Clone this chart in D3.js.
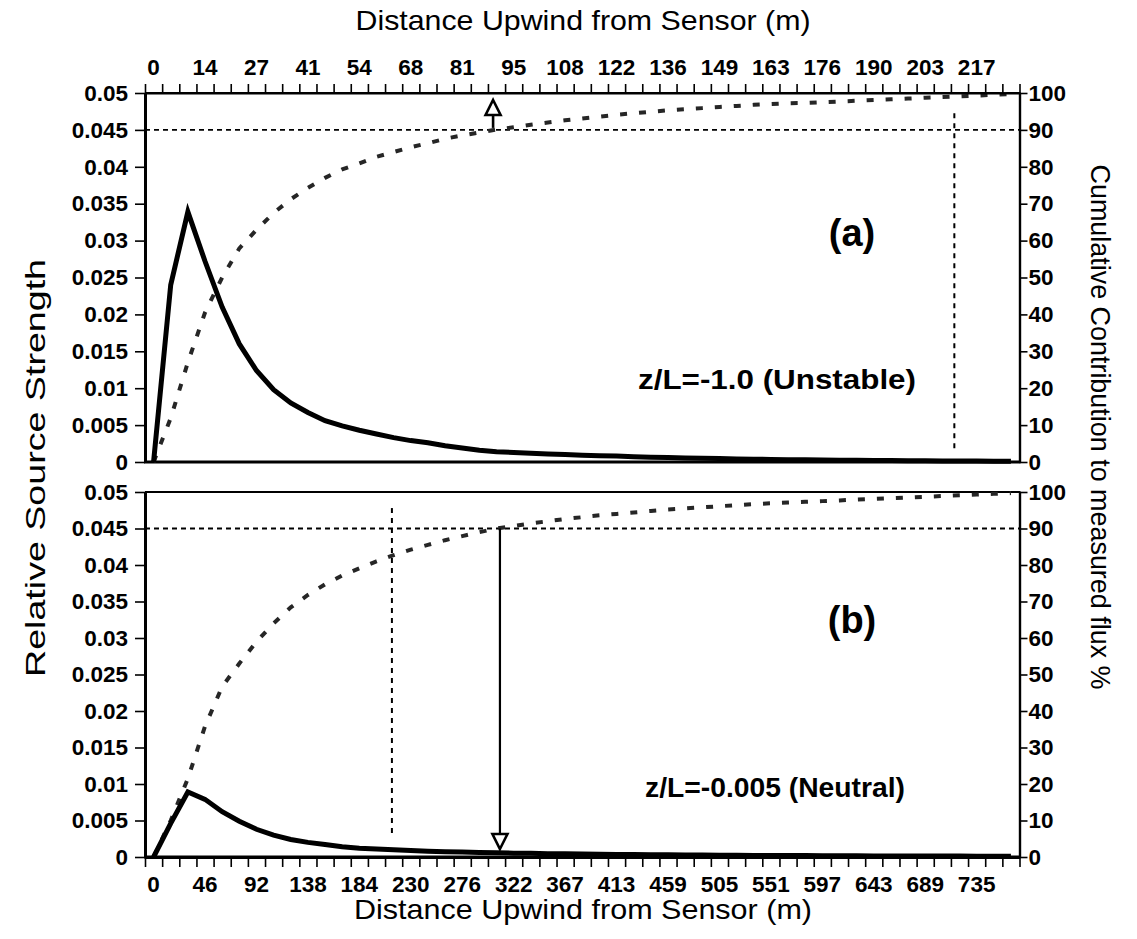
<!DOCTYPE html>
<html>
<head>
<meta charset="utf-8">
<script src="https://cdn.jsdelivr.net/npm/d3@7"></script>
<style>
  html, body { margin: 0; padding: 0; background: #fff; }
  svg { display: block; font-family: "Liberation Sans", Arial, Helvetica, sans-serif; }
</style>
</head>
<body>
<svg id="chart" width="1137" height="939"></svg>
<script>
// ---------------- data ----------------
const categoryCount = 51;
const topTickLabels = ["0","14","27","41","54","68","81","95","108","122","136","149","163","176","190","203","217"];
const bottomTickLabels = ["0","46","92","138","184","230","276","322","367","413","459","505","551","597","643","689","735"];
const leftTicks = [0,0.005,0.01,0.015,0.02,0.025,0.03,0.035,0.04,0.045,0.05];
const leftTickLabels = ["0","0.005","0.01","0.015","0.02","0.025","0.03","0.035","0.04","0.045","0.05"];
const rightTicks = [0,10,20,30,40,50,60,70,80,90,100];

// (a) unstable  z/L = -1.0
const strengthA = [0,0.024,0.0339,0.0272,0.0210,0.0160,0.0124,0.0098,0.0080,0.0067,0.0056,
  0.0049,0.0043,0.0038,0.0033,0.0029,0.0026,0.0022,0.0019,0.0016,0.0014,
  0.0013,0.0012,0.0011,0.0010,0.0009,0.00085,0.0008,0.00072,0.00066,0.0006,
  0.00055,0.0005,0.00046,0.00042,0.00038,0.00035,0.00032,0.0003,0.00027,0.00025,
  0.00023,0.00021,0.00019,0.00017,0.00016,0.00015,0.00013,0.00012,0.00011,0.0001];
const cumulativeA = [0,11.9,27,40.5,50,57.9,62.9,67.5,71.2,74.3,77,
  79.3,80.9,82.7,84,85.3,86.4,87.6,88.5,89.3,90.1,
  90.7,91.4,92,92.6,93.1,93.6,94.1,94.5,94.9,95.3,
  95.6,95.9,96.2,96.5,96.8,97,97.2,97.3,97.5,97.7,
  97.9,98.1,98.3,98.5,98.7,98.9,99.1,99.3,99.5,99.7];

// (b) neutral  z/L = -0.005
const strengthB = [0,0.0046,0.0089,0.0079,0.0062,0.0049,0.0038,0.0030,0.0024,0.0020,0.0017,
  0.0014,0.0012,0.0011,0.00098,0.00088,0.0008,0.00073,0.00067,0.00062,0.00057,
  0.00053,0.0005,0.00046,0.00043,0.0004,0.00037,0.00035,0.00033,0.00031,0.0003,
  0.00028,0.00027,0.00025,0.00024,0.00022,0.00021,0.0002,0.00019,0.00018,0.00017,
  0.00016,0.00015,0.00014,0.00013,0.00013,0.00012,0.00012,0.00011,0.00011,0.0001];
const cumulativeB = [0,10,21.5,35.8,46.7,53,59,64,68.4,71.8,74.7,
  77.1,79.1,81,82.7,84.2,85.5,86.8,87.9,89,90,
  90.7,91.4,92,92.6,93.1,93.6,94,94.4,94.8,95.2,
  95.5,95.8,96.1,96.4,96.7,96.9,97.1,97.3,97.5,97.7,
  97.9,98.1,98.3,98.5,98.7,98.9,99.1,99.3,99.5,99.7];

// annotation positions (category index, cumulative %)
const arrowA = [19.8, 90];          // 90 % crossing, panel (a)
const arrowB = [20.2, 90];          // 90 % crossing, panel (b)
const vlineA = [46.7, 94.5, 3];     // category, from %, to %
const vlineB = [13.9, 95.6, 5.5];
const level90 = [90];

// ---------------- layout ----------------
const svg = d3.select("#chart");
const X0 = 145, X1 = 1019.5;
const panels = [
  {top: 93, bottom: 462, s: strengthA, c: cumulativeA, arrow: arrowA, vline: vlineA, arrowUp: true,
   label: "(a)", labelY: 246, note: "z/L=-1.0 (Unstable)", noteX: 777, noteY: 389, noteW: 278},
  {top: 492, bottom: 857, s: strengthB, c: cumulativeB, arrow: arrowB, vline: vlineB, arrowUp: false,
   label: "(b)", labelY: 633, note: "z/L=-0.005 (Neutral)", noteX: 775, noteY: 797, noteW: 260}
];

const xBand = d3.scaleBand().domain(d3.range(categoryCount)).range([X0, X1]).padding(0);
const xEdge = d3.scaleLinear().domain([0, categoryCount]).range([X0, X1]);
const xCat = d3.scaleLinear().domain([-0.5, categoryCount - 0.5]).range([X0, X1]);
const cx = i => xBand(i) + xBand.bandwidth() / 2;

const tickFont = "bold 22.5px 'Liberation Sans', Arial, sans-serif";

function styleAxis(g, w) {
  g.selectAll("path.domain").attr("stroke", "#000").attr("stroke-width", w);
  g.selectAll(".tick line").attr("stroke", "#000").attr("stroke-width", 1.6);
  g.selectAll("text").style("font", tickFont).attr("fill", "#000");
}

panels.forEach((p, k) => {
  const yL = d3.scaleLinear().domain([0, 0.05]).range([p.bottom, p.top]);
  const yR = d3.scaleLinear().domain([0, 100]).range([p.bottom, p.top]);

  // frame
  svg.append("line").attr("x1", X0).attr("x2", X1 + 1).attr("y1", p.top).attr("y2", p.top)
    .attr("stroke", "#000").attr("stroke-width", 2.2);
  svg.append("line").attr("x1", X0 - 1).attr("x2", X1 + 1).attr("y1", p.bottom).attr("y2", p.bottom)
    .attr("stroke", "#000").attr("stroke-width", 3);

  // left axis
  const gl = svg.append("g").attr("transform", `translate(${X0},0)`)
    .call(d3.axisLeft(yL).tickValues(leftTicks).tickFormat((d, i) => leftTickLabels[i]).tickSize(10).tickSizeOuter(0).tickPadding(7));
  styleAxis(gl, 3);

  // right axis
  const gr = svg.append("g").attr("transform", `translate(${X1},0)`)
    .call(d3.axisRight(yR).tickValues(rightTicks).tickSize(8).tickSizeOuter(0).tickPadding(1));
  styleAxis(gr, 2.4);

  // 90% reference line
  svg.append("line").attr("x1", X0).attr("x2", X1).attr("y1", yR(level90[0])).attr("y2", yR(level90[0]))
    .attr("stroke", "#000").attr("stroke-width", 1.8).attr("stroke-dasharray", "5,4");

  // vertical dotted line
  svg.append("line").attr("x1", xCat(p.vline[0])).attr("x2", xCat(p.vline[0]))
    .attr("y1", yR(p.vline[1])).attr("y2", yR(p.vline[2]))
    .attr("stroke", "#000").attr("stroke-width", 2).attr("stroke-dasharray", "5,5");

  // cumulative (dashed)
  svg.append("path").datum(p.c)
    .attr("d", d3.line().x((d, i) => cx(i)).y(d => yR(d)))
    .attr("fill", "none").attr("stroke", "#262626").attr("stroke-width", 4)
    .attr("stroke-dasharray", "7,12");

  // source strength (solid)
  svg.append("path").datum(p.s)
    .attr("d", d3.line().x((d, i) => cx(i)).y(d => yL(d)))
    .attr("fill", "none").attr("stroke", "#000").attr("stroke-width", 5)
    .attr("stroke-linejoin", "miter");

  // arrow
  const ax = xCat(p.arrow[0]);
  const ay = yR(p.arrow[1]);
  const tri = 15, half = 7.5;
  if (p.arrowUp) {
    const tipY = p.top + 7;
    svg.append("line").attr("x1", ax).attr("x2", ax).attr("y1", ay - 2).attr("y2", tipY + tri)
      .attr("stroke", "#000").attr("stroke-width", 2.6);
    svg.append("path").attr("d", `M${ax},${tipY} L${ax + half},${tipY + tri} L${ax - half},${tipY + tri} Z`)
      .attr("fill", "#fff").attr("stroke", "#000").attr("stroke-width", 2.6);
  } else {
    const tipY = p.bottom - 8;
    svg.append("line").attr("x1", ax).attr("x2", ax).attr("y1", ay).attr("y2", tipY - tri)
      .attr("stroke", "#000").attr("stroke-width", 2.2);
    svg.append("path").attr("d", `M${ax},${tipY} L${ax + half},${tipY - tri} L${ax - half},${tipY - tri} Z`)
      .attr("fill", "#fff").attr("stroke", "#000").attr("stroke-width", 2.6);
  }

  // panel labels
  svg.append("text").attr("x", 852).attr("y", p.labelY).attr("text-anchor", "middle")
    .style("font", "bold 38px 'Liberation Sans', Arial, sans-serif").text(p.label);
  svg.append("text").attr("x", p.noteX).attr("y", p.noteY).attr("text-anchor", "middle")
    .attr("textLength", p.noteW).attr("lengthAdjust", "spacingAndGlyphs")
    .style("font", "bold 27px 'Liberation Sans', Arial, sans-serif").text(p.note);
});

// top x axis
const gtTicks = svg.append("g").attr("transform", "translate(0,93)")
  .call(d3.axisTop(xEdge).tickValues(d3.range(categoryCount + 1)).tickFormat("").tickSize(9).tickSizeOuter(0));
styleAxis(gtTicks, 2.2);
const gtLab = svg.append("g").attr("transform", "translate(0,93)")
  .call(d3.axisTop(xBand).tickValues(d3.range(0, categoryCount, 3)).tickFormat(i => topTickLabels[i / 3]).tickSize(0).tickPadding(18));
gtLab.select("path.domain").remove();
styleAxis(gtLab, 0);

// bottom x axis
const gbTicks = svg.append("g").attr("transform", "translate(0,857)")
  .call(d3.axisBottom(xEdge).tickValues(d3.range(categoryCount + 1)).tickFormat("").tickSize(10).tickSizeOuter(0));
styleAxis(gbTicks, 3);
const gbLab = svg.append("g").attr("transform", "translate(0,857)")
  .call(d3.axisBottom(xBand).tickValues(d3.range(0, categoryCount, 3)).tickFormat(i => bottomTickLabels[i / 3]).tickSize(0).tickPadding(19));
gbLab.select("path.domain").remove();
styleAxis(gbLab, 0);

// axis titles
const titleFont = "28px 'Liberation Sans', Arial, sans-serif";
function title(x, y, rot, len, txt) {
  svg.append("text").attr("transform", `translate(${x},${y}) rotate(${rot})`).attr("text-anchor", "middle")
    .attr("textLength", len).attr("lengthAdjust", "spacingAndGlyphs")
    .style("font", titleFont).text(txt);
}
title(583, 30, 0, 455, "Distance Upwind from Sensor (m)");
title(583, 919, 0, 458, "Distance Upwind from Sensor (m)");
title(45, 468, -90, 418, "Relative Source Strength");
title(1091, 427, 90, 525, "Cumulative Contribution to measured flux %");
</script>
</body>
</html>
